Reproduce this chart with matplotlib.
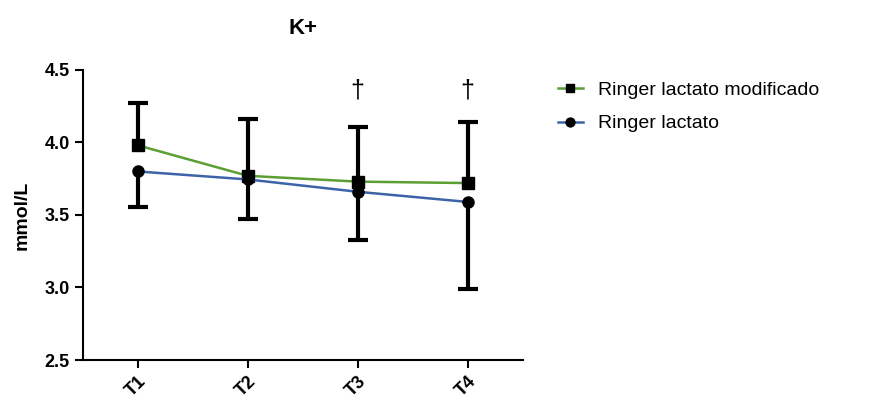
import matplotlib
matplotlib.use('Agg')
import matplotlib.pyplot as plt
import numpy as np

plt.rcParams['font.family'] = ['Liberation Sans', 'DejaVu Sans']

times = ['T1', 'T2', 'T3', 'T4']
rlm_mean = [3.98, 3.77, 3.73, 3.72]
rlm_err_up = [0.29, 0.39, 0.38, 0.42]
rl_mean = [3.80, 3.745, 3.66, 3.59]
rl_err_down = [0.245, 0.27, 0.33, 0.60]
marks = ['', '', '†', '†']

x = np.arange(len(times))
rlm_top = np.array(rlm_mean) + np.array(rlm_err_up)
rl_bot = np.array(rl_mean) - np.array(rl_err_down)

fig = plt.figure(figsize=(8.72, 3.99), dpi=100)
ax = fig.add_axes([0.0952, 0.0977, 0.504, 0.727])

green = '#5b9e32'
blue = '#3d63a9'

# one-sided error bars: modified upwards, plain downwards
ax.vlines(x, rlm_mean, rlm_top, color='black', lw=3, zorder=2)
ax.vlines(x, rl_bot, rl_mean, color='black', lw=3, zorder=2)
ax.plot(x, rlm_top, ls='none', marker='_', ms=14, mew=3, color='black', zorder=2)
ax.plot(x, rl_bot, ls='none', marker='_', ms=14, mew=3, color='black', zorder=2)

ax.plot(x, rlm_mean, color=green, lw=1.8, marker='s', ms=8,
        mfc='black', mec='black', label='Ringer lactato modificado', zorder=3)
ax.plot(x, rl_mean, color=blue, lw=1.8, marker='o', ms=8,
        mfc='black', mec='black', label='Ringer lactato', zorder=3)

for xi, m in zip(x, marks):
    if m:
        ax.text(xi, 4.36, m, ha='center', va='center', fontsize=18)

ax.set_xlim(-0.5, 3.5)
ax.set_ylim(2.5, 4.5)
ax.set_yticks([2.5, 3.0, 3.5, 4.0, 4.5])
ax.set_yticklabels(['2.5', '3.0', '3.5', '4.0', '4.5'], fontweight='bold', fontsize=13)
ax.set_xticks(x)
ax.set_xticklabels(times, rotation=45, ha='right', rotation_mode='anchor',
                   fontweight='bold', fontsize=13)
ax.spines['top'].set_visible(False)
ax.spines['right'].set_visible(False)
ax.spines['left'].set_linewidth(1.5)
ax.spines['bottom'].set_linewidth(1.5)
ax.tick_params(width=1.5, length=6)

ax.set_ylabel('mmol/L', fontweight='bold', fontsize=14, labelpad=10)
ax.set_title('K+', fontweight='bold', fontsize=16, pad=26)

ax.legend(loc='upper left', bbox_to_anchor=(1.04, 1.02), frameon=False,
          fontsize=14, handlelength=1.3, labelspacing=0.8, markerscale=0.8)

fig.savefig('out.png', dpi=100)
